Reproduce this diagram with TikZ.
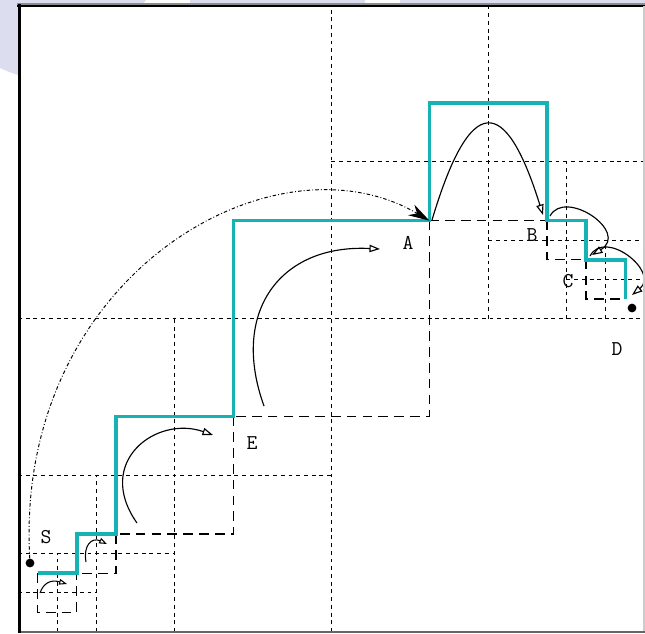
\documentclass[tikz,border=0pt]{standalone}
\usetikzlibrary{arrows.meta}
\definecolor{pathcyan}{RGB}{22,178,180}
\definecolor{slidebg}{RGB}{221,221,240}
\begin{document}
\begin{tikzpicture}[x=0.02cm,y=-0.02cm,
  gridline/.style={line width=0.7pt, dash pattern=on 2.2pt off 2.2pt},
  celledge/.style={line width=0.75pt, dash pattern=on 5.5pt off 3.5pt},
  route/.style={pathcyan, line width=2pt, line join=miter},
  hop/.style={line width=0.65pt, -{Triangle[open,length=6pt,width=4.2pt]}},
  smallhop/.style={line width=0.6pt, -{Triangle[open,length=4.5pt,width=3.2pt]}},
  jump/.style={line width=0.55pt, dash pattern=on 2pt off 1.2pt on 0.5pt off 1.2pt,
    -{Stealth[length=12pt,width=7pt]}},
  lbl/.style={font=\ttfamily\fontsize{12}{14}\selectfont, inner sep=0pt},
  spot/.style={circle, fill=black, minimum size=5pt, inner sep=0pt}]

\useasboundingbox (0,0) rectangle (645,633);

% slide background behind the window
\fill[slidebg] (0,0) -- (0,68) .. controls (6,71) and (12,73) .. (18,75) -- (18,4) -- (143,4) -- (146,0) -- cycle;
\fill[slidebg] (190,0) rectangle (365,4);
\fill[slidebg] (400,0) rectangle (645,4);

% quadtree cells (unit = one smallest cell)
\begin{scope}[shift={(18,632)}, x=0.78375cm, y=0.78375cm]
  \draw[gridline] (8,0) -- (8,16);
  \draw[gridline] (0,8) -- (16,8);
  \draw[gridline] (4,0) -- (4,8);
  \draw[gridline] (0,4) -- (8,4);
  \draw[gridline] (2,0) -- (2,4);
  \draw[gridline] (0,2) -- (4,2);
  \draw[gridline] (1,0) -- (1,2);
  \draw[gridline] (0,1) -- (2,1);
  \draw[gridline] (12,8) -- (12,16);
  \draw[gridline] (8,12) -- (16,12);
  \draw[gridline] (14,8) -- (14,12);
  \draw[gridline] (12,10) -- (16,10);
  \draw[gridline] (15,8) -- (15,10);
  \draw[gridline] (14,9) -- (16,9);

  % corners of the route
  \coordinate (p0) at (0.5,1.5);
  \coordinate (p1) at (1.5,1.5);
  \coordinate (p2) at (1.5,2.5);
  \coordinate (p3) at (2.5,2.5);
  \coordinate (p4) at (2.5,5.5);
  \coordinate (p5) at (5.5,5.5);
  \coordinate (p6) at (5.5,10.5);
  \coordinate (p7) at (10.5,10.5);
  \coordinate (p8) at (10.5,13.5);
  \coordinate (p9) at (13.5,13.5);
  \coordinate (p10) at (13.5,10.5);
  \coordinate (p11) at (14.5,10.5);
  \coordinate (p12) at (14.5,9.5);
  \coordinate (p13) at (15.5,9.5);
  \coordinate (p14) at (15.5,8.5);

  % dashed sides of the visited squares
  \draw[celledge] (p0) -- (0.5,0.5) -- (1.5,0.5) -- (p1);
  \draw[celledge] (p3) -- (2.5,1.5) -- (p1);
  \draw[celledge] (p5) -- (5.5,2.5) -- (p3);
  \draw[celledge] (p7) -- (10.5,5.5) -- (p5);
  \draw[celledge] (p7) -- (p10);
  \draw[celledge] (p10) -- (13.5,9.5) -- (p12);
  \draw[celledge] (p12) -- (14.5,8.5) -- (p14);
\end{scope}

% the route
\draw[route] (p0) -- (p1) -- (p2) -- (p3) -- (p4) -- (p5) -- (p6) -- (p7)
  -- (p8) -- (p9) -- (p10) -- (p11) -- (p12) -- (p13) -- (p14);

% end points
\node[spot] (src) at (30,563) {};
\node[spot] (dst) at (632,308) {};

% hops inside the squares
\coordinate (h1a) at (40,593);   \coordinate (h1b) at (67,584);
\coordinate (h2a) at (86,562);   \coordinate (h2b) at (107,544);
\coordinate (h3a) at (137,523);  \coordinate (h3b) at (213,435);
\coordinate (h4a) at (264,406);  \coordinate (h4b) at (380,249);
\coordinate (h5a) at (432,220);  \coordinate (h5b) at (543,215);
\coordinate (h6a) at (550,216);  \coordinate (h6b) at (592,255);
\coordinate (h7a) at (590,256);  \coordinate (h7b) at (632,295);

\draw[smallhop] (h1a) .. controls (43,584) and (50,579) .. (h1b);
\draw[smallhop] (h2a) .. controls (83,545) and (92,537) .. (h2b);
\draw[hop] (h3a) .. controls (94,462) and (156,415) .. (h3b);
\draw[hop] (h4a) .. controls (230,312) and (280,244) .. (h4b);
\draw[hop] (h5a) .. controls (470,93) and (505,93) .. (h5b);
\draw[hop] (h6a) .. controls (565,188) and (630,232) .. (h6b);
\draw[hop] (h7a) .. controls (605,228) and (660,272) .. (h7b);

% long jump from the source
\draw[jump] (src) .. controls (14,278) and (272,128) .. (p7);

% labels
\node[lbl] (labS) at (46,537) {S};
\node[lbl] (labA) at (408,243) {A};
\node[lbl] (labB) at (532,235) {B};
\node[lbl] (labC) at (568,281) {C};
\node[lbl] (labD) at (617,349) {D};
\node[lbl] (labE) at (252,443) {E};

% window frame
\draw[black!45, line width=0.6pt] (17,4) -- (645,4);
\draw[black, line width=1.1pt] (17,6) -- (645,6);
\draw[black!20, line width=0.9pt] (644,6) -- (644,633);
\draw[black!60, line width=1.1pt] (18,632) -- (645,632);
\draw[black, line width=2pt] (19.3,4) -- (19.3,633);
\end{tikzpicture}
\end{document}
